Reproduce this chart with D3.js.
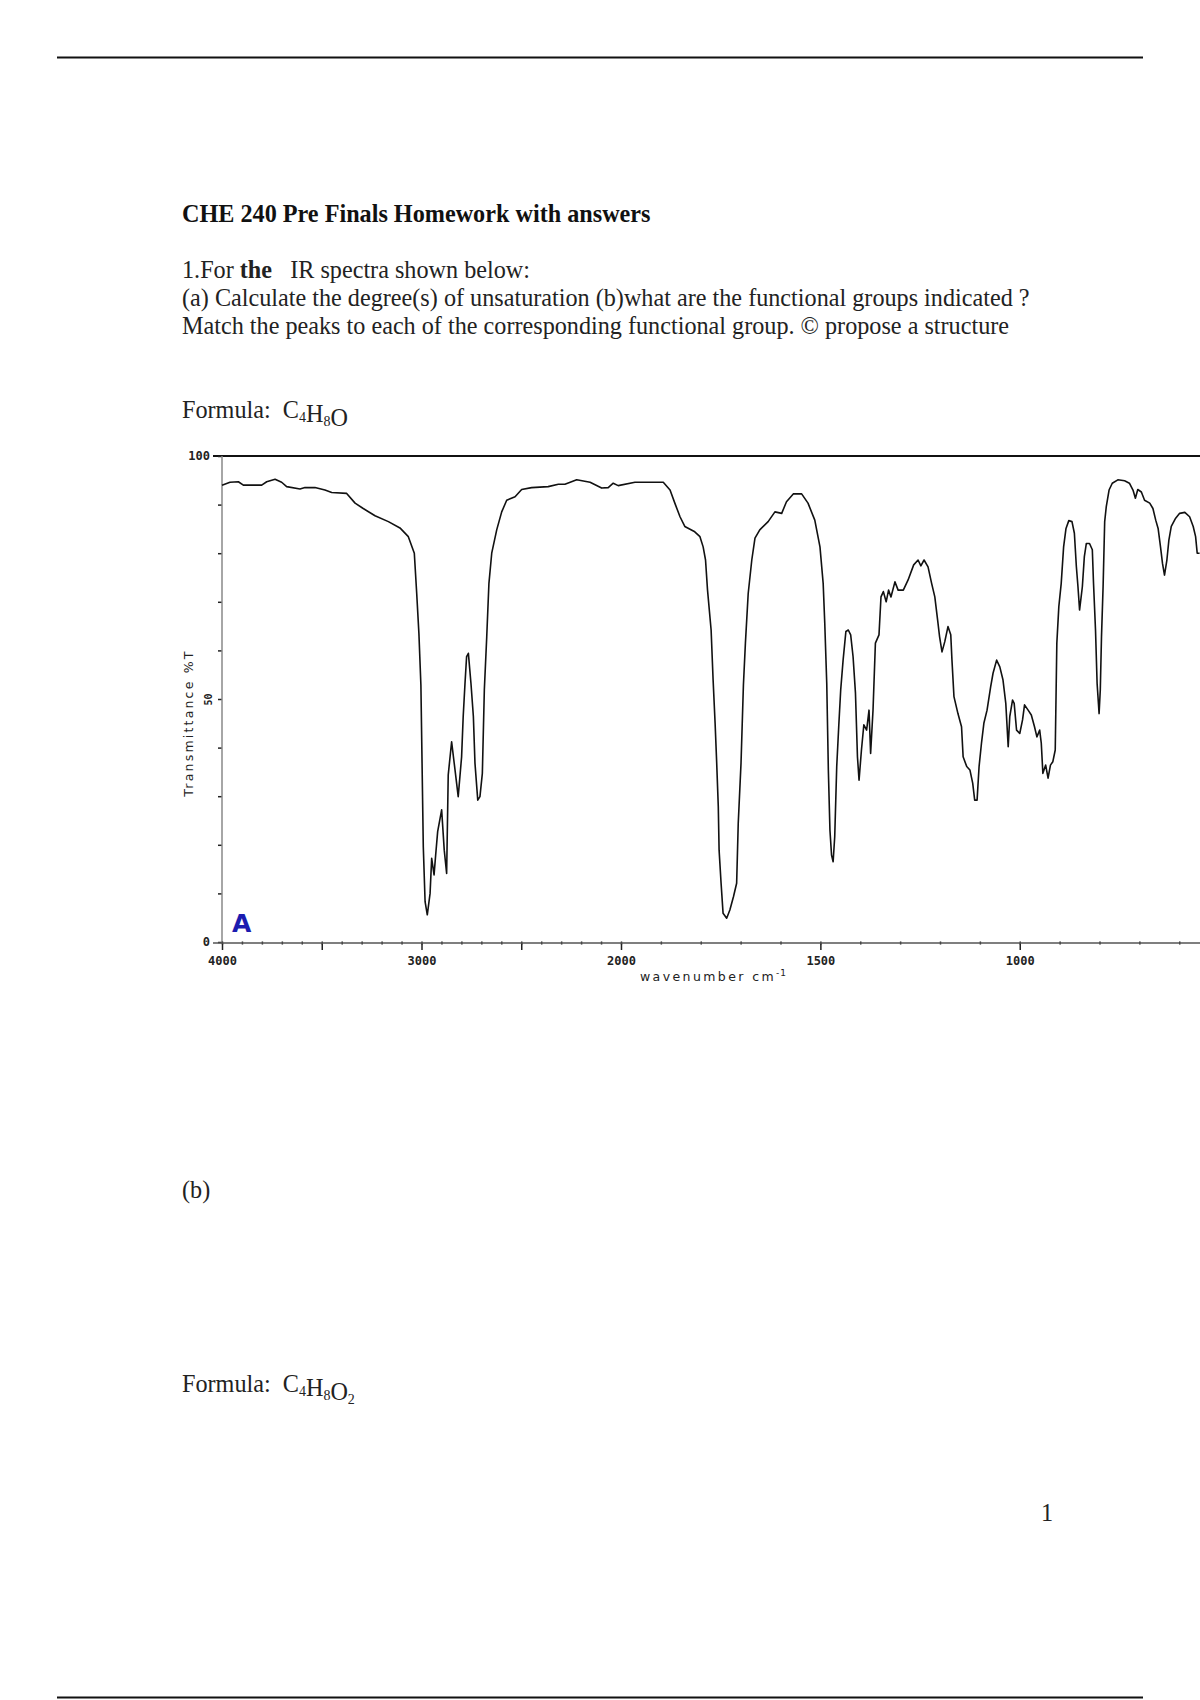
<!DOCTYPE html>
<html>
<head>
<meta charset="utf-8">
<script src="https://cdn.jsdelivr.net/npm/d3@7"></script>
<style>
  body { margin: 0; background: #fff; }
  svg { display: block; }
  .doc { font-family: "Liberation Serif", "Times New Roman", serif; font-size: 24.2px; fill: #222; white-space: pre; }
  .tick text { font-family: "DejaVu Sans Mono", monospace; font-size: 12px; fill: #222; }
</style>
</head>
<body>
<script>
// IR spectrum (wavenumber cm-1, %T)
var wavenumbers = [4000,3960,3918,3893,3801,3776,3734,3701,3676,3609,3584,3534,3484,3450,3375,3333,3292,3233,3166,3108,
  3066,3036,3024,3013,3003,2991,2982,2971,2957,2949,2937,2929,2919,2899,2886,2874,2866,2849,2832,2816,
  2799,2791,2782,2774,2765,2752,2740,2732,2718,2707,2695,2685,2673,2662,2648,2623,2598,2573,2531,2498,
  2448,2365,2314,2281,2222,2155,2097,2064,2039,2014,1965,1894,1877,1865,1852,1840,1815,1802,1794,1788,
  1783,1774,1769,1764,1760,1756,1754,1749,1744,1735,1727,1718,1710,1706,1699,1693,1688,1681,1672,1664,
  1652,1631,1614,1597,1585,1568,1547,1531,1514,1501,1493,1489,1484,1480,1476,1472,1468,1464,1459,1454,
  1449,1443,1436,1430,1424,1418,1412,1407,1403,1397,1391,1384,1378,1374,1368,1362,1353,1348,1342,1335,
  1329,1323,1313,1305,1292,1280,1266,1255,1248,1240,1230,1221,1213,1206,1201,1195,1188,1180,1173,1170,
  1165,1155,1146,1142,1133,1125,1118,1113,1107,1102,1096,1090,1082,1073,1067,1058,1050,1042,1035,1029,
  1025,1018,1014,1008,1000,993,988,979,971,963,957,950,946,942,935,929,923,917,911,907,
  902,896,890,884,877,869,863,858,854,850,843,838,833,825,818,815,810,806,801,798,
  795,791,787,783,776,768,754,737,725,716,710,704,695,687,674,666,659,653,647,642,
  637,631,626,620,609,599,586,574,565,559,555,549];
var transmittance = [94.0,94.6,94.7,94.0,94.0,94.7,95.2,94.6,93.7,93.2,93.5,93.5,93.0,92.5,92.3,90.3,89.2,87.7,86.5,85.2,
  83.4,80.0,71.7,63.5,52.9,19.6,8.3,5.6,10.0,17.2,13.8,17.9,22.7,27.2,18.9,14.1,34.4,41.2,35.4,29.9,
  38.1,46.4,53.2,58.7,59.4,53.2,46.4,36.8,29.2,29.9,34.7,51.9,62.8,73.8,80.0,84.8,88.5,90.9,91.6,93.1,
  93.5,93.7,94.2,94.2,95.1,94.6,93.4,93.5,94.4,93.9,94.6,94.6,93.0,90.3,87.5,85.5,84.4,83.4,81.3,78.6,
  72.4,64.2,53.9,45.0,36.8,27.8,18.9,12.1,5.9,4.9,6.6,9.3,12.1,24.4,36.8,52.9,61.5,71.7,78.6,83.1,
  84.8,86.5,88.5,88.2,90.6,92.2,92.2,90.3,86.8,81.3,73.8,65.6,53.2,35.4,23.0,17.9,16.5,21.7,36.1,44.3,
  51.9,58.0,63.9,64.2,63.2,58.7,51.2,38.1,33.3,39.5,44.7,43.6,47.7,38.8,47.7,61.5,63.2,71.0,72.1,70.0,
  72.4,71.0,74.1,72.4,72.4,74.5,77.6,78.6,77.4,78.6,77.2,73.8,71.0,66.3,62.8,59.7,61.8,64.9,63.2,58.0,
  50.5,47.0,44.3,38.1,36.1,35.4,32.7,29.2,29.2,36.1,40.9,45.0,47.7,52.5,55.3,58.0,56.6,53.9,49.1,40.2,
  46.4,49.8,49.1,43.6,42.9,45.7,48.8,47.7,46.7,44.3,42.2,43.6,40.9,34.7,36.4,33.7,36.4,37.1,39.5,61.5,
  69.0,73.8,81.3,85.1,86.7,86.5,84.1,77.2,73.1,68.3,73.1,79.3,82.0,82.0,80.7,73.8,64.2,53.2,47.0,51.9,
  62.8,73.1,86.5,89.6,93.0,94.4,95.1,94.9,94.4,93.0,91.3,93.1,92.6,90.9,90.3,89.2,86.8,85.1,81.3,77.9,
  75.5,78.6,82.7,85.5,87.2,88.2,88.4,87.5,85.5,83.4,80.0,80.0];

var xMajorTicks = [4000,3500,3000,2500,2000,1500,1000,500];
var xMinorTicks = d3.range(4000, 499, -100);
var xTickLabels = [4000,3000,2000,1500,1000];
var yTicks = d3.range(0, 101, 10);
var yTickLabels = [0,50,100];

var w = 1200;
var h = 1700;

var svg = d3.select("body")
    .append("svg")
    .attr("width", w)
    .attr("height", h);

svg.append("rect").attr("width", w).attr("height", h).attr("fill", "#fff");

// page rules
svg.append("line").attr("x1", 57).attr("x2", 1143).attr("y1", 57.5).attr("y2", 57.5)
    .attr("stroke", "#111").attr("stroke-width", 2);
svg.append("line").attr("x1", 57).attr("x2", 1143).attr("y1", 1697.5).attr("y2", 1697.5)
    .attr("stroke", "#111").attr("stroke-width", 2);

// document text
var left = 182;
svg.append("text").attr("class", "doc").attr("x", left).attr("y", 222)
    .style("font-weight", "bold").style("fill", "#111")
    .text("CHE 240 Pre Finals Homework with answers");

var l1 = svg.append("text").attr("class", "doc").attr("x", left).attr("y", 278);
l1.append("tspan").text("1.For ");
l1.append("tspan").style("font-weight", "bold").text("the");
l1.append("tspan").text("   IR spectra shown below:");

svg.append("text").attr("class", "doc").attr("x", left).attr("y", 306)
    .text("(a) Calculate the degree(s) of unsaturation (b)what are the functional groups indicated ?");
svg.append("text").attr("class", "doc").attr("x", left).attr("y", 334)
    .text("Match the peaks to each of the corresponding functional group. \u00A9 propose a structure");

function formula(yPos, parts) {
    var t = svg.append("text").attr("class", "doc").attr("x", left).attr("y", yPos);
    t.append("tspan").text("Formula:  ");
    parts.forEach(function (p) {
        t.append("tspan").text(p[0]);
        if (p[1]) {
            t.append("tspan").attr("dy", 4).style("font-size", "14px").text(p[1]);
            t.append("tspan").attr("dy", -4).text("");
        }
    });
}
formula(418, [["C", "4"], ["H", "8"], ["O", ""]]);

svg.append("text").attr("class", "doc").attr("x", left).attr("y", 1198).text("(b)");
formula(1392, [["C", "4"], ["H", "8"], ["O", "2"]]);

svg.append("text").attr("class", "doc").attr("x", 1041).attr("y", 1521).text("1");

// Create scale functions
var xScale = d3.scaleLinear()
    .domain([4000, 2000, 400])
    .range([222, 621, 1259]);

var yScale = d3.scaleLinear()
    .domain([0, 100])
    .range([942, 456]);

var chart = svg.append("g");

// frame line at 100 %T
chart.append("line").attr("x1", 213).attr("x2", w).attr("y1", 456).attr("y2", 456)
    .attr("stroke", "#111").attr("stroke-width", 2);

// Define axes
var yAxis = d3.axisLeft(yScale)
    .tickValues(yTicks)
    .tickSizeInner(4)
    .tickSizeOuter(0)
    .tickPadding(8)
    .tickFormat(function (d) { return yTickLabels.indexOf(d) >= 0 ? d : ""; });

var xMinor = d3.axisBottom(xScale)
    .tickValues(xMinorTicks)
    .tickSizeInner(3)
    .tickSizeOuter(0)
    .tickFormat("");

var xAxis = d3.axisBottom(xScale)
    .tickValues(xMajorTicks)
    .tickSizeInner(7)
    .tickSizeOuter(0)
    .tickPadding(6)
    .tickFormat(function (d) { return xTickLabels.indexOf(d) >= 0 ? d : ""; });

var gy = chart.append("g")
    .attr("transform", "translate(222,0)")
    .call(yAxis);
gy.select(".domain").remove();
gy.selectAll(".tick line").attr("stroke", "#222").attr("stroke-width", 1.5);
gy.selectAll(".tick text").style("font-weight", "bold");
gy.selectAll(".tick").filter(function (d) { return d === 50; }).select("text")
    .attr("x", -10).attr("dy", 0)
    .attr("text-anchor", "middle")
    .attr("transform", "rotate(-90,-10,0)")
    .style("font-size", "10px");

chart.append("line").attr("x1", 222).attr("x2", 222).attr("y1", 456).attr("y2", 943)
    .attr("stroke", "#888").attr("stroke-width", 1.5);

var gxm = chart.append("g")
    .attr("transform", "translate(0,941.5)")
    .call(xMinor);
gxm.select(".domain").remove();
gxm.selectAll(".tick line").attr("stroke", "#222").attr("stroke-width", 1.5);

var gx = chart.append("g")
    .attr("transform", "translate(0,943)")
    .call(xAxis);
gx.select(".domain").remove();
gx.selectAll(".tick line").attr("stroke", "#222").attr("stroke-width", 1.5);
gx.selectAll(".tick text").style("font-weight", "bold");

chart.append("line").attr("x1", 213).attr("x2", w).attr("y1", 943).attr("y2", 943)
    .attr("stroke", "#555").attr("stroke-width", 1.5);

// axis titles
chart.append("text")
    .attr("transform", "translate(193,723) rotate(-90)")
    .attr("text-anchor", "middle")
    .style("font-family", "DejaVu Sans, sans-serif")
    .style("font-size", "12.5px")
    .style("letter-spacing", "2.2px")
    .attr("fill", "#222")
    .text("Transmittance %T");

var xt = chart.append("text")
    .attr("x", 640).attr("y", 981)
    .style("font-family", "DejaVu Sans, sans-serif")
    .style("font-size", "12.5px")
    .style("letter-spacing", "2.4px")
    .attr("fill", "#222");
xt.append("tspan").text("wavenumber cm");
xt.append("tspan").attr("dy", -5).style("font-size", "9px").style("letter-spacing", "1px").text("-1");

// the spectrum
var line = d3.line()
    .x(function (d, i) { return xScale(wavenumbers[i]); })
    .y(function (d) { return yScale(d); });

chart.append("path")
    .datum(transmittance)
    .attr("fill", "none")
    .attr("stroke", "#111")
    .attr("stroke-width", 1.6)
    .attr("stroke-linejoin", "round")
    .attr("d", line);

chart.append("text")
    .attr("x", 232).attr("y", 932)
    .style("font-family", "DejaVu Sans, sans-serif")
    .style("font-size", "25px")
    .style("font-weight", "600")
    .attr("fill", "#1c1cb0")
    .text("A");
</script>
</body>
</html>
